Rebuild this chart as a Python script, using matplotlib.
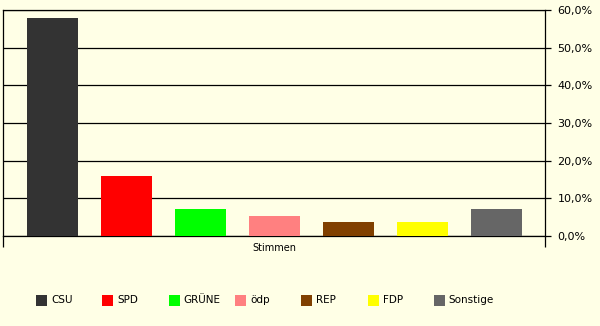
import matplotlib
matplotlib.use("Agg")
import matplotlib.pyplot as plt
from matplotlib.patches import Rectangle
from matplotlib.ticker import FuncFormatter

parties = ["CSU", "SPD", "GRÜNE", "ödp", "REP", "FDP", "Sonstige"]
values = [57.8, 15.9, 7.2, 5.3, 3.7, 3.7, 7.2]
colors = ["#333333", "#FF0000", "#00FF00", "#FF8080", "#804000", "#FFFF00", "#666666"]
yticks = [0, 10, 20, 30, 40, 50, 60]
category = "Stimmen"

BG = "#FFFFE6"
plt.rcParams["font.family"] = ["DejaVu Sans"]

W, H = 600, 326
fig = plt.figure(figsize=(W / 100, H / 100), dpi=100, facecolor=BG)
left, right, top, bottom = 3, 545, 10, 236
ax = fig.add_axes([left / W, (H - bottom) / H, (right - left) / W, (bottom - top) / H])
ax.set_facecolor(BG)

x = list(range(len(parties)))
ax.bar(x, values, width=0.69, color=colors, zorder=3, linewidth=0)
ax.set_xlim(-0.669, 6.655)
ax.set_ylim(0, 60)

for y in yticks:
    ax.axhline(y, color="black", lw=0.9, zorder=2)

for s in ["left", "right", "top", "bottom"]:
    ax.spines[s].set_color("black")
    ax.spines[s].set_linewidth(0.9)

ax.yaxis.tick_right()
ax.set_yticks(yticks)
ax.yaxis.set_major_formatter(FuncFormatter(lambda v, p: f"{v:.1f}%".replace(".", ",")))
ax.tick_params(axis="y", which="both", length=4, width=0.9, direction="out", pad=5,
               labelsize=8, colors="black", left=False, right=True)
ax.set_xticks(list(ax.get_xlim()))
ax.set_xticklabels([])
ax.tick_params(axis="x", length=8, width=0.9, direction="out")

ax.text(0.5, -0.053, category, transform=ax.transAxes, ha="center", va="center", fontsize=7)

# legend
for i, (name, c) in enumerate(zip(parties, colors)):
    x0 = 36 + 66.3 * i
    fig.patches.append(Rectangle((x0 / W, (H - 306) / H), 11 / W, 11 / H,
                                 transform=fig.transFigure, facecolor=c, edgecolor="none"))
    fig.text((x0 + 15) / W, (H - 300) / H, name, ha="left", va="center", fontsize=7.5)

fig.savefig("out.png", dpi=100, facecolor=BG)
